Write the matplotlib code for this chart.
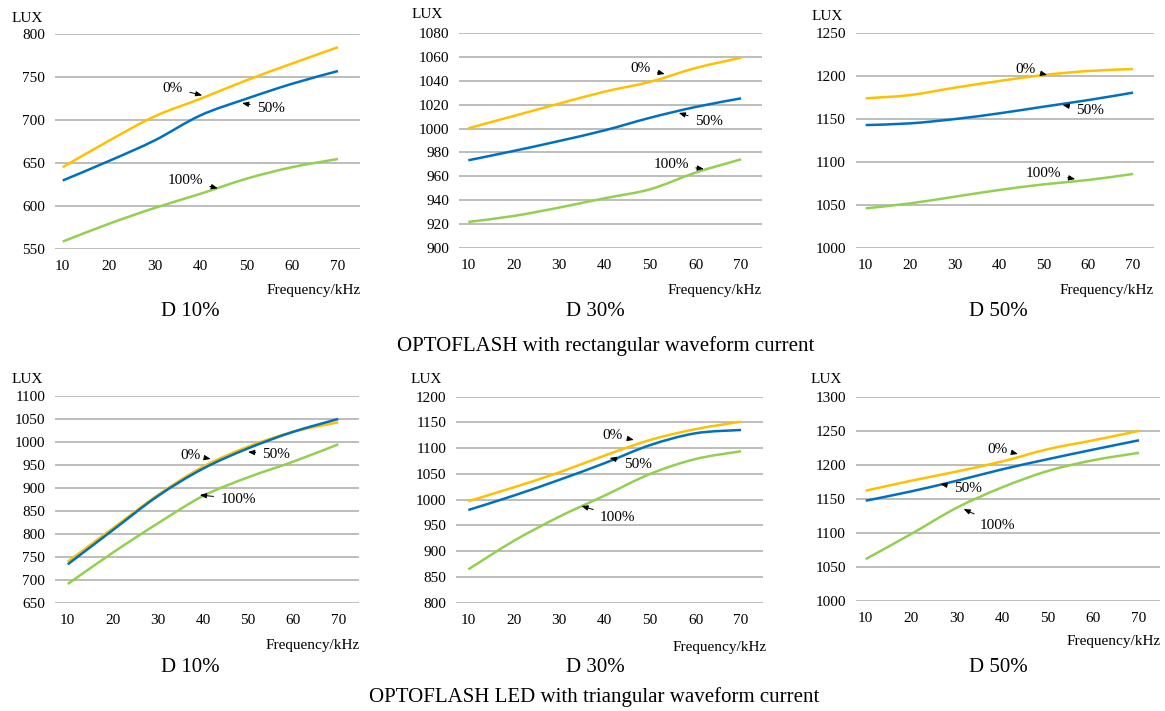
import matplotlib
matplotlib.use("Agg")
import matplotlib.pyplot as plt
from matplotlib.path import Path
from matplotlib.patches import PathPatch

plt.rcParams["font.family"] = ["Liberation Serif", "DejaVu Serif"]

freq = [10, 20, 30, 40, 50, 60, 70]
freq_ticks = [10, 20, 30, 40, 50, 60, 70]

# rectangular waveform current, duty 10 / 30 / 50 %
rect_d10_0 = [645.5, 676, 704.5, 725, 746.4, 766, 785]
rect_d10_50 = [630, 652.5, 676.5, 705.7, 725, 742.5, 757.3]
rect_d10_100 = [559, 579.5, 598, 614.5, 632, 645.5, 655]

rect_d30_0 = [1000.2, 1010.5, 1020.8, 1030.8, 1039, 1050.5, 1059.1]
rect_d30_50 = [973.5, 981.3, 989.6, 998.5, 1009, 1018, 1025.2]
rect_d30_100 = [922, 927, 934, 941.8, 949.3, 963.2, 974.3]

rect_d50_0 = [1174.2, 1178, 1186.6, 1194.4, 1201.4, 1206, 1208.4]
rect_d50_50 = [1143, 1145, 1150, 1156.7, 1164.5, 1172.2, 1180.8]
rect_d50_100 = [1045.9, 1051.7, 1059.5, 1067.3, 1073.9, 1079, 1086]

# triangular waveform current
tri_d10_0 = [739.3, 812, 884.5, 946, 989.7, 1022, 1042.7]
tri_d10_50 = [733.5, 808, 882.3, 941.8, 986, 1022, 1050]
tri_d10_100 = [690.7, 759, 822.8, 882.3, 923, 957, 994.8]

tri_d30_0 = [997, 1024, 1053, 1085.7, 1116, 1137, 1151.5]
tri_d30_50 = [980, 1008, 1038.5, 1071, 1106, 1129, 1135.4]
tri_d30_100 = [864.7, 920, 967, 1008, 1050, 1079, 1094]

tri_d50_0 = [1162, 1176.6, 1190.2, 1205, 1223, 1236, 1249.8]
tri_d50_50 = [1147.3, 1161, 1176.6, 1193.4, 1208.3, 1222.4, 1236]
tri_d50_100 = [1061.5, 1098.5, 1137, 1167, 1191, 1206.8, 1217.6]

series_labels = ["0%", "50%", "100%"]
colors = ["#FFC000", "#0070C0", "#92D050"]

W, H = 1165, 711
fig = plt.figure(figsize=(W / 100, H / 100), dpi=100)


def px_axes(left, right, top, bottom):
    return fig.add_axes([left / W, 1 - bottom / H, (right - left) / W, (bottom - top) / H])


def smooth_path(xs, ys):
    # Excel-style smoothed line: cubic Bezier segments through the data points
    verts = [(xs[0], ys[0])]
    codes = [Path.MOVETO]
    n = len(xs)
    for i in range(n - 1):
        x0, y0 = xs[max(i - 1, 0)], ys[max(i - 1, 0)]
        x1, y1 = xs[i], ys[i]
        x2, y2 = xs[i + 1], ys[i + 1]
        x3, y3 = xs[min(i + 2, n - 1)], ys[min(i + 2, n - 1)]
        c1 = (x1 + (x2 - x0) / 6, y1 + (y2 - y0) / 6)
        c2 = (x2 - (x3 - x1) / 6, y2 - (y3 - y1) / 6)
        verts += [c1, c2, (x2, y2)]
        codes += [Path.CURVE4] * 3
    return Path(verts, codes)


panels = [
    dict(box=(55, 360, 34.3, 249.3), xlim=(8.32, 74.8), ylim=(550, 800), step=50,
         data=[rect_d10_0, rect_d10_50, rect_d10_100],
         notes=[((34.0, 737.5), (40.4, 729)), ((55.4, 714), (49.1, 720)), ((36.7, 630), (43.8, 621))],
         lux=(27, 18), freqlab=(361, 290), title=("D 10%", 190, 312)),
    dict(box=(459, 762, 32.7, 248.3), xlim=(7.95, 74.6), ylim=(900, 1080), step=20,
         data=[rect_d30_0, rect_d30_50, rect_d30_100],
         notes=[((47.9, 1050.5), (53.2, 1045.5)), ((62.9, 1005.5), (56.3, 1013)), ((54.6, 969.6), (61.8, 966.3))],
         lux=(427, 15), freqlab=(762, 290), title=("D 30%", 595, 312)),
    dict(box=(855.7, 1154, 33.3, 247.7), xlim=(7.76, 74.7), ylim=(1000, 1250), step=50,
         data=[rect_d50_0, rect_d50_50, rect_d50_100],
         notes=[((45.8, 1208), (50.7, 1201.4)), ((60.3, 1160.5), (54.2, 1166.4)), ((49.8, 1087), (57.0, 1080))],
         lux=(827, 17), freqlab=(1154, 290), title=("D 50%", 998, 312)),
    dict(box=(55, 359, 396, 602.7), xlim=(7.18, 74.6), ylim=(650, 1100), step=50,
         data=[tri_d10_0, tri_d10_50, tri_d10_100],
         notes=[((37.3, 971.5), (41.7, 963)), ((56.3, 973.7), (50.0, 978)), ((47.8, 875.7), (39.3, 884.5))],
         lux=(27, 380), freqlab=(360, 645), title=("D 10%", 190, 667)),
    dict(box=(456, 763, 396.7, 602.7), xlim=(7.29, 74.84), ylim=(800, 1200), step=50,
         data=[tri_d30_0, tri_d30_50, tri_d30_100],
         notes=[((41.8, 1125.6), (46.4, 1116)), ((47.3, 1069.3), (41.1, 1081)), ((42.9, 966.4), (34.9, 987.8))],
         lux=(426, 380), freqlab=(767, 647), title=("D 30%", 595, 667)),
    dict(box=(855.7, 1160, 396.7, 601), xlim=(7.8, 74.6), ylim=(1000, 1300), step=50,
         data=[tri_d50_0, tri_d50_50, tri_d50_100],
         notes=[((39.0, 1223.2), (43.4, 1215.9)), ((32.4, 1164.5), (26.4, 1171.8)), ((39.0, 1111.6), (31.5, 1135))],
         lux=(826, 380), freqlab=(1161, 642), title=("D 50%", 998, 667)),
]

for p in panels:
    ax = px_axes(*p["box"])
    lo, hi = p["ylim"]
    ax.set_xlim(*p["xlim"])
    ax.set_ylim(lo, hi)
    ax.set_yticks(list(range(lo, hi + 1, p["step"])))
    ax.set_xticks(freq_ticks)
    ax.grid(axis="y", color="#ababab", linewidth=1.1)
    ax.set_axisbelow(True)
    for s in ax.spines.values():
        s.set_visible(False)
    ax.tick_params(length=0, labelsize=11, pad=8)
    ax.tick_params(axis="y", pad=7)
    for vals, c in zip(p["data"], colors):
        ax.add_patch(PathPatch(smooth_path(freq, vals), facecolor="none", edgecolor=c,
                               linewidth=1.8, capstyle="butt", clip_on=False))
    for lab, (txt, head) in zip(series_labels, p["notes"]):
        ax.annotate(lab, xy=head, xytext=txt, ha="center", va="center", fontsize=11,
                    arrowprops=dict(arrowstyle="-|>,head_length=0.35,head_width=0.14",
                                    color="black", lw=0.7, shrinkA=3, shrinkB=0))
    fig.text(p["lux"][0] / W, 1 - p["lux"][1] / H, "LUX", ha="center", va="center", fontsize=11)
    fig.text(p["freqlab"][0] / W, 1 - p["freqlab"][1] / H, "Frequency/kHz",
             ha="right", va="center", fontsize=11)
    t, tx, ty = p["title"]
    fig.text(tx / W, 1 - ty / H, t, ha="center", va="center", fontsize=15)

fig.text(606 / W, 1 - 346 / H, "OPTOFLASH with rectangular waveform current",
         ha="center", va="center", fontsize=15)
fig.text(594 / W, 1 - 697 / H, "OPTOFLASH LED with triangular waveform current",
         ha="center", va="center", fontsize=15)

fig.savefig("out.png", dpi=100, facecolor="white")
